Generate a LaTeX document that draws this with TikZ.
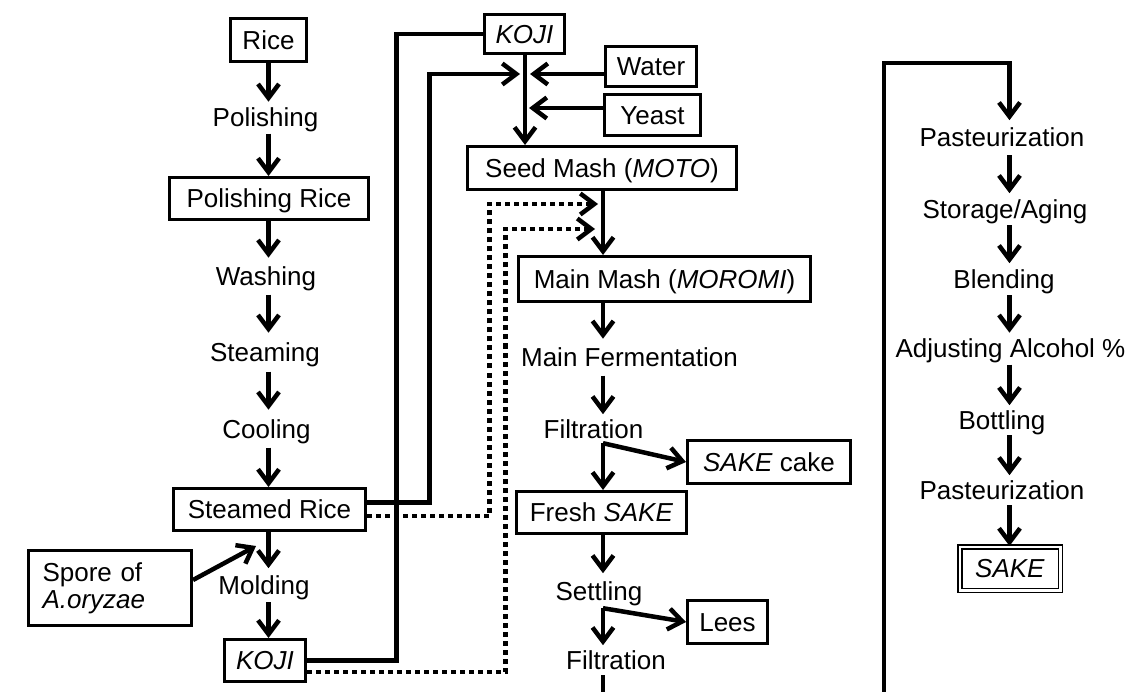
\documentclass[tikz,border=0pt]{standalone}
\usepackage{fontspec}
\setmainfont{Liberation Sans}
\usetikzlibrary{arrows.meta,calc}
\begin{document}
\begin{tikzpicture}[x=1pt,y=-1pt, font=\fontsize{26}{27}\selectfont,
  box/.style={draw, line width=3pt, inner sep=0pt, text height=18.6pt, text depth=0pt},
  lbl/.style={inner xsep=0pt, text height=18.6pt, text depth=0pt, anchor=base},
  conn/.style={line width=4.5pt},
  tip/.style={-{Straight Barb[sharp,length=14pt,width=21pt]}},
  arr/.style={conn, tip},
  dotarr/.style={line width=4.5pt, dash pattern=on 5pt off 4pt, tip},
]
\useasboundingbox (0,0) rectangle (1135,692);
\clip (0,0) rectangle (1135,692);

% left column
\node[box, minimum width=76pt, minimum height=43pt] (rice) at (268.5,40) {Rice};
\node[lbl, inner ysep=6.5pt] (polishing) at (265.5,127) {Polishing};
\node[box, minimum width=199pt, minimum height=42pt] (polrice) at (269,198.5) {Polishing Rice};
\node[lbl, inner ysep=9pt] (washing) at (266,285.5) {Washing};
\node[lbl, inner ysep=10pt] (steaming) at (265,361.5) {Steaming};
\node[lbl, inner ysep=9.5pt] (cooling) at (266.5,438) {Cooling};
\node[box, minimum width=192pt, minimum height=42pt] (steamed) at (269.5,509.5) {Steamed Rice};
\node[draw, line width=3pt, inner xsep=14pt, text width=135pt, align=left, minimum height=75pt] (spore) at (110,588) {Spore of\\\textit{A.oryzae}};
\node[lbl, inner ysep=7.5pt] (molding) at (264,594.5) {Molding};
\node[box, minimum width=81pt, minimum height=42pt] (koji2) at (265,660.5) {\textit{KOJI}};

% middle column
\node[box, minimum width=80pt, minimum height=39pt] (kojitop) at (524.5,34) {\textit{KOJI}};
\node[box, minimum width=91pt, minimum height=40pt] (water) at (651,66.5) {Water};
\node[box, minimum width=96pt, minimum height=41pt] (yeast) at (652.5,115) {Yeast};
\node[box, minimum width=269pt, minimum height=43pt] (seed) at (602,168) {Seed Mash (\textit{MOTO})};
\node[box, minimum width=292pt, minimum height=45pt] (mainmash) at (664.5,279) {Main Mash (\textit{MOROMI})};
\node[lbl, inner ysep=9pt] (ferm) at (629.5,366.5) {Main Fermentation};
\node[lbl, inner ysep=5pt] (filt1) at (593.5,438) {Filtration};
\node[box, minimum width=163pt, minimum height=43pt] (cake) at (769,462) {\textit{SAKE} cake};
\node[box, minimum width=170pt, minimum height=42pt] (fresh) at (601.5,512.5) {Fresh \textit{SAKE}};
\node[lbl, inner ysep=8pt] (settle) at (599,600) {Settling};
\node[box, minimum width=80pt, minimum height=43pt] (lees) at (727.5,622) {Lees};
\node[lbl, inner ysep=5.5pt] (filt2) at (616,669.5) {Filtration};

% right column
\node[lbl, inner ysep=8pt] (past1) at (1002,147) {Pasteurization};
\node[lbl, inner ysep=6.5pt] (storage) at (1005,218.5) {Storage/Aging};
\node[lbl, inner ysep=6.5pt] (blend) at (1004,288.5) {Blending};
\node[lbl, inner ysep=6.5pt] (adjust) at (1010.5,358) {Adjusting Alcohol \%};
\node[lbl, inner ysep=5.5pt] (bottling) at (1002,429.5) {Bottling};
\node[lbl, inner ysep=5.5pt] (past2) at (1002,499.5) {Pasteurization};
\node[draw, double, double distance=2.5pt, line width=1.5pt, inner sep=0pt, minimum width=100.5pt, minimum height=43.5pt, text height=18.6pt, text depth=0pt] (sake) at (1010,568.5) {\textit{SAKE}};

% helper coordinates
\coordinate (lc) at (268.5,0);
\coordinate (mc) at (603,0);
\coordinate (rc) at (1009.5,0);
\coordinate (j1) at (525,74);
\coordinate (j2) at (525,108);
\coordinate (d1) at (602,204);
\coordinate (d2) at (602,229);
\coordinate (sj) at (256,546);
\coordinate (rtop) at (884,63);
\coordinate (bot) at (0,730);

% left column connectors
\draw[arr] (rice.south) -- (polishing.north -| lc);
\draw[arr] (polishing.south -| lc) -- (polrice.north -| lc);
\draw[arr] (polrice.south -| lc) -- (washing.north -| lc);
\draw[arr] (washing.south -| lc) -- (steaming.north -| lc);
\draw[arr] (steaming.south -| lc) -- (cooling.north -| lc);
\draw[arr] (cooling.south -| lc) -- (steamed.north -| lc);
\draw[arr] (steamed.south -| lc) -- (molding.north -| lc);
\draw[arr] (molding.south -| lc) -- (koji2.north -| lc);
\draw[arr] ([yshift=8pt]spore.east) -- (sj);

% feeds to seed mash
\draw[conn] (koji2.east) -- ++(89.5,0) |- (kojitop.west);
\draw[arr] ([yshift=7pt]steamed.east) -- ++(62.5,0) |- ([xshift=-5pt]j1);
\draw[arr] (water.west |- j1) -- ([xshift=5pt]j1);
\draw[arr] (yeast.west |- j2) -- ([xshift=4pt]j2);
\draw[arr] (kojitop.south -| j1) -- (seed.north -| j1);
\draw[arr] (seed.south -| mc) -- (mainmash.north -| mc);
\draw[dotarr] ([yshift=-6.5pt]steamed.east) -- ++(122.5,0) |- ([xshift=-4pt]d1);
\draw[dotarr] ([yshift=-11.5pt]koji2.east) -- ++(198.5,0) |- ([xshift=-7pt]d2);

% middle column connectors
\draw[arr] (mainmash.south -| mc) -- (ferm.north -| mc);
\draw[arr] (ferm.south -| mc) -- (filt1.north -| mc);
\draw[arr] (filt1.south -| mc) -- (fresh.north -| mc);
\draw[arr] (filt1.south -| mc) -- (cake.west);
\draw[arr] (fresh.south -| mc) -- (settle.north -| mc);
\draw[arr] (settle.south -| mc) -- (filt2.north -| mc);
\draw[arr] (settle.south -| mc) -- (lees.west);
\draw[arr] (filt2.south -| mc) -- (mc |- bot) -| (rtop) -| (past1.north -| rc);

% right column connectors
\draw[arr] (past1.south -| rc) -- (storage.north -| rc);
\draw[arr] (storage.south -| rc) -- (blend.north -| rc);
\draw[arr] (blend.south -| rc) -- (adjust.north -| rc);
\draw[arr] (adjust.south -| rc) -- (bottling.north -| rc);
\draw[arr] (bottling.south -| rc) -- (past2.north -| rc);
\draw[arr] (past2.south -| rc) -- (sake.north -| rc);
\end{tikzpicture}
\end{document}
